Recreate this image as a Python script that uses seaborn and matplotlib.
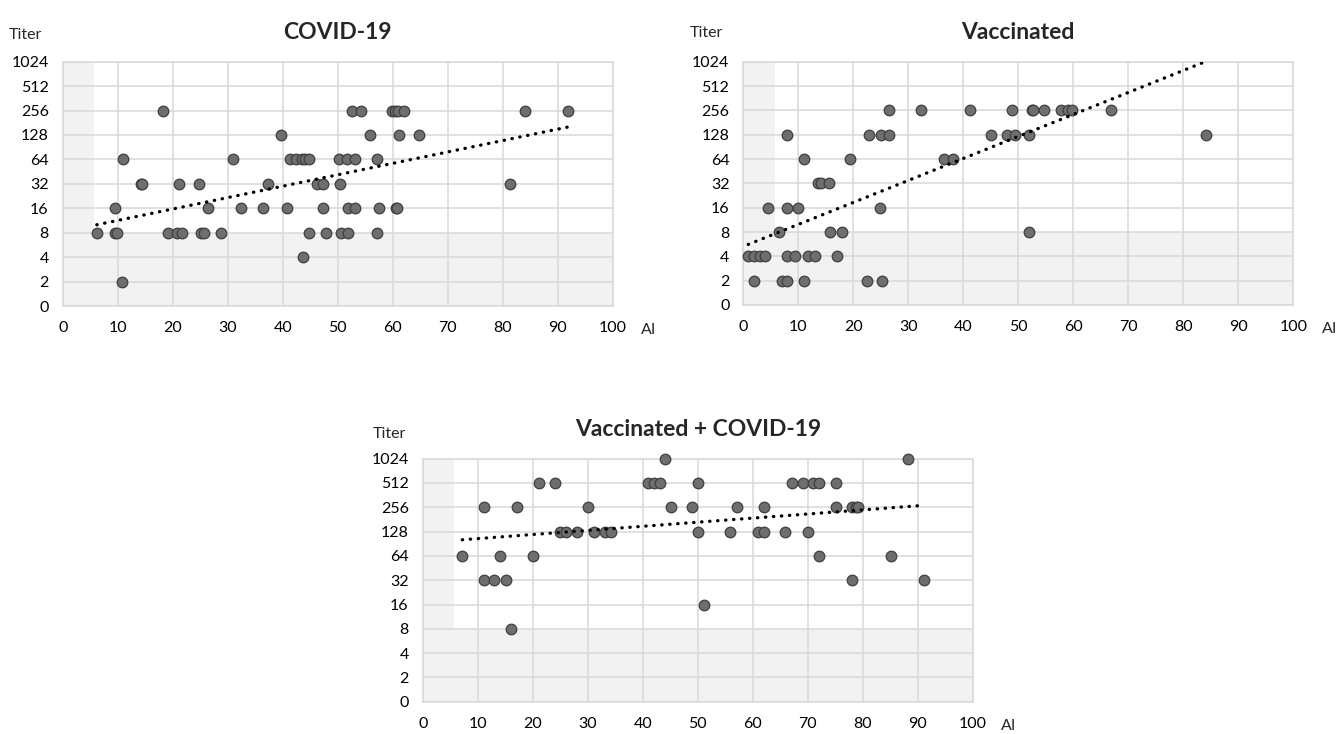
import numpy as np
import pandas as pd
import matplotlib
matplotlib.use("Agg")
import matplotlib.pyplot as plt
import seaborn as sns

# ---------------- data ----------------
titer_ticks = ["0", "2", "4", "8", "16", "32", "64", "128", "256", "512", "1024"]
ai_ticks = [0, 10, 20, 30, 40, 50, 60, 70, 80, 90, 100]

covid_ai = [6.2, 9.5, 9.5, 9.9, 11.0, 10.8, 14.2, 14.4, 18.3, 19.1, 20.7, 21.6, 21.2, 24.8,
            25.2, 25.7, 26.4, 28.7, 31.0, 32.4, 36.5, 37.4, 39.6, 40.7, 41.3, 42.5, 43.5,
            44.1, 44.7, 43.6, 44.8, 46.2, 47.3, 47.3, 47.8, 50.3, 51.7, 53.2, 57.1, 50.4,
            51.9, 53.1, 57.6, 60.6, 60.8, 50.6, 51.9, 57.1, 52.6, 54.2, 59.8, 60.5, 61.0,
            62.1, 55.9, 61.1, 64.7, 84.0, 91.8, 81.3]
covid_titer = [8, 16, 8, 8, 64, 2, 32, 32, 256, 8, 8, 8, 32, 32,
               8, 8, 16, 8, 64, 16, 16, 32, 128, 16, 64, 64, 64,
               64, 64, 4, 8, 32, 32, 16, 8, 64, 64, 64, 64, 32,
               16, 16, 16, 16, 16, 8, 8, 8, 256, 256, 256, 256, 256,
               256, 128, 128, 128, 256, 256, 32]

vacc_ai = [0.9, 1.9, 3.0, 4.0, 1.9, 4.5, 6.5, 7.0, 8.0, 7.9, 7.9, 7.9, 9.4, 9.9, 11.0,
           11.0, 11.8, 13.0, 13.6, 14.2, 15.6, 15.8, 18.0, 17.1, 19.4, 22.9, 25.0, 26.5,
           26.5, 22.5, 25.3, 24.8, 32.3, 36.5, 38.1, 41.2, 45.0, 47.9, 49.4, 48.9, 52.4,
           52.7, 54.7, 57.8, 59.0, 59.7, 52.0, 66.8, 84.1, 51.9]
vacc_titer = [4, 4, 4, 4, 2, 16, 8, 2, 2, 128, 16, 4, 4, 16, 64,
              2, 4, 4, 32, 32, 32, 8, 8, 4, 64, 128, 128, 128,
              256, 2, 2, 16, 256, 64, 64, 256, 128, 128, 128, 256, 256,
              256, 256, 256, 256, 256, 128, 256, 128, 8]

both_ai = [7.2, 11.1, 11.1, 13.0, 15.1, 14.1, 16.1, 17.2, 21.2, 24.1, 20.0, 25.0, 26.1,
           28.1, 30.0, 31.2, 33.2, 34.2, 41.0, 42.1, 43.2, 44.1, 45.2, 50.0, 50.0, 49.0,
           55.9, 57.1, 61.0, 62.0, 62.0, 65.9, 67.1, 69.1, 71.0, 72.1, 75.2, 70.0, 72.1,
           75.2, 78.0, 78.8, 79.2, 78.0, 51.1, 85.2, 88.2, 91.1]
both_titer = [64, 256, 32, 32, 32, 64, 8, 256, 512, 512, 64, 128, 128,
              128, 256, 128, 128, 128, 512, 512, 512, 1024, 256, 128, 512, 256,
              128, 256, 128, 128, 256, 128, 512, 512, 512, 512, 512, 128, 64,
              256, 256, 256, 256, 32, 16, 64, 1024, 32]

panels = [
    ("COVID-19", covid_ai, covid_titer),
    ("Vaccinated", vacc_ai, vacc_titer),
    ("Vaccinated + COVID-19", both_ai, both_titer),
]

# ---------------- style ----------------
sns.set_style("white")
plt.rcParams["font.family"] = ["Lato", "DejaVu Sans"]

W, H = 1336, 734
fig = plt.figure(figsize=(W / 100, H / 100), dpi=100)

# axes boxes in pixels: left, top, right(x=100), bottom
boxes = [(62.7, 61.7, 612.7, 306.0),
         (743.3, 61.7, 1293.3, 305.0),
         (422.7, 458.7, 972.7, 701.7)]
titer_pos = [(-0.0685, 1.109), (-0.0666, 1.118), (-0.061, 1.101)]

grid_c = "#d9d9d9"
shade_c = "#f2f2f2"
fs = 11.5

for (title, ai, titer), (l, t, r, b), tp in zip(panels, boxes, titer_pos):
    ax = fig.add_axes([l / W, 1 - b / H, (r - l) / W, (b - t) / H])
    df = pd.DataFrame({"AI": ai, "level": np.log2(np.array(titer, dtype=float))})

    ax.axvspan(0, 5.7, color=shade_c, zorder=0, lw=0)
    ax.axhspan(0, 3, color=shade_c, zorder=0, lw=0)

    sns.scatterplot(data=df, x="AI", y="level", ax=ax, s=58, color="#6e6e6e",
                    edgecolor="#3f3f3f", linewidth=0.9, zorder=3, legend=False,
                    clip_on=False)
    sns.regplot(data=df, x="AI", y="level", ax=ax, scatter=False, ci=None,
                truncate=True,
                line_kws=dict(color="black", lw=2.4, linestyle=(0, (0.1, 2.3)),
                              dash_capstyle="round", zorder=4))

    ax.set_xlim(0, 100)
    ax.set_ylim(0, 10)
    ax.set_xticks(ai_ticks)
    ax.set_xticklabels([str(v) for v in ai_ticks])
    ax.set_yticks(range(len(titer_ticks)))
    ax.set_yticklabels(titer_ticks)
    ax.grid(True, color=grid_c, lw=1.1)
    ax.set_axisbelow(True)
    for sp in ax.spines.values():
        sp.set_color(grid_c)
        sp.set_linewidth(1.1)
    ax.tick_params(axis="both", length=0, labelsize=fs, colors="black")
    ax.tick_params(axis="y", pad=10)
    ax.tick_params(axis="x", pad=11)
    ax.set_xlabel("")
    ax.set_ylabel("")
    ax.set_title(title, fontsize=16.5, fontweight="bold", pad=16)
    ax.text(tp[0], tp[1], "Titer", transform=ax.transAxes, ha="center",
            va="center", fontsize=fs)
    ax.text(1.066, -0.098, "AI", transform=ax.transAxes, ha="center",
            va="center", fontsize=fs)

fig.savefig("out.png", dpi=100)
